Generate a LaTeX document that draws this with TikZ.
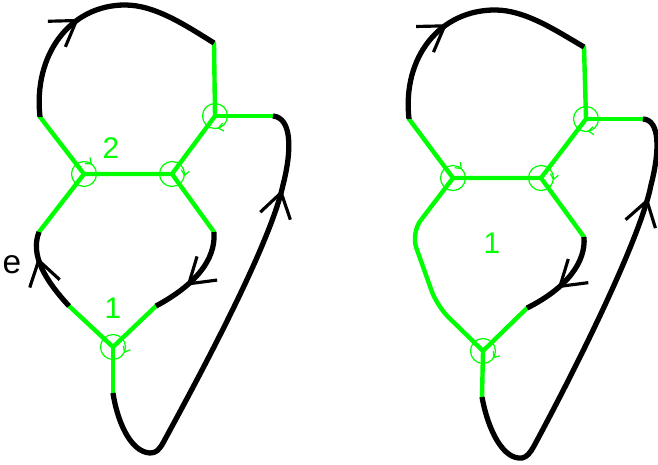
\documentclass[tikz,border=0pt]{standalone}
\usepackage{fontspec}
\setmainfont{Liberation Sans}
\usepackage{tikz}
\usetikzlibrary{arrows.meta,decorations.markings}

\begin{document}
\begin{tikzpicture}[
    x=0.02cm,
    y=-0.02cm,
    font=\fontsize{17}{17}\selectfont,
    strand/.style={
        line width=3pt
    },
    edge/.style={
        green,
        line width=2.5pt,
        line cap=round
    },
    flow/.style={
        postaction={decorate},
        decoration={
            markings,
            mark=at position #1 with {\arrow{Straight Barb[length=0.48cm,width=0.62cm,line width=1.8pt]}}
        }
    },
    spin/.style={
        green,
        line width=0.7pt,
        postaction={decorate},
        decoration={
            markings,
            mark=at position #1 with {\arrow{Straight Barb[length=0.1cm,width=0.16cm,line width=0.7pt]}}
        }
    },
    tag/.style={
        green,
        inner sep=0pt
    }
]

\useasboundingbox (0,0) rectangle (658,465);

% Left diagram: vertices and colour changes
\coordinate (a1) at (84,174);
\coordinate (a2) at (172,174);
\coordinate (a3) at (215,116);
\coordinate (a0) at (113,347);

\coordinate (a1up) at (40,117);
\coordinate (a1dn) at (39,232);
\coordinate (a2dn) at (214,232);
\coordinate (a3up) at (214,43);
\coordinate (a3rt) at (273,116);
\coordinate (a0l) at (69,306);
\coordinate (a0r) at (156,306);
\coordinate (a0dn) at (113,393);

% green edges
\draw[
    edge
] (a1up) -- (a1) -- (a1dn);

\draw[
    edge
] (a1) -- (a2) -- (a3) -- (a3up);

\draw[
    edge
] (a2) -- (a2dn);

\draw[
    edge
] (a3) -- (a3rt);

\draw[
    edge
] (a0l) -- (a0) -- (a0r);

\draw[
    edge
] (a0) -- (a0dn);

% black strands
\draw[
    strand,
    flow=0.43
] (a1up) .. controls (33,55) and (70,5) .. (125,5)
         .. controls (155,5) and (185,25) .. (a3up);

\draw[
    strand,
    flow=0.82
] (a0dn) .. controls (117,420) and (130,452) .. (150,453)
         .. controls (156,453) and (159,450) .. (163,443)
         .. controls (200,375) and (270,245) .. (283,185)
         .. controls (292,150) and (292,118) .. (a3rt);

\draw[
    strand,
    flow=0.69
] (a0l) .. controls (45,280) and (30,255) .. (a1dn);

\draw[
    strand,
    flow=0.63
] (a2dn) .. controls (216,260) and (195,285) .. (a0r);

% vertex circles
\draw[spin=0.86] (a1) circle (12.5);
\draw[spin=0.03] (a2) circle (12.5);
\draw[spin=0.22] (a3) circle (12.5);
\draw[spin=0.08] (a0) circle (12.5);

\node[
    tag
] (a2lbl) at (111,148) {
    2
};

\node[
    tag
] (a1lbl) at (113,308) {
    1
};

\node[
    inner sep=0pt,
    font=\fontsize{19}{19}\selectfont
] (elbl) at (12,265) {
    e
};


% Right diagram: vertices and colour changes
\coordinate (b1) at (453,178);
\coordinate (b2) at (541,178);
\coordinate (b3) at (586,119);
\coordinate (b0) at (483,351);

\coordinate (b1up) at (409,119);
\coordinate (b1bend) at (411,233);
\coordinate (b0bend) at (437,306);
\coordinate (b2dn) at (584,237);
\coordinate (b3up) at (584,47);
\coordinate (b3rt) at (643,119);
\coordinate (b0r) at (527,308);
\coordinate (b0dn) at (482,397);

% green edges
\draw[
    edge
] (b1up) -- (b1) -- (b2) -- (b3) -- (b3up);

\draw[
    edge,
    rounded corners=9pt
] (b1) -- (b1bend) -- (b0bend) -- (b0);

\draw[
    edge
] (b2) -- (b2dn);

\draw[
    edge
] (b3) -- (b3rt);

\draw[
    edge
] (b0r) -- (b0) -- (b0dn);

% black strands
\draw[
    strand,
    flow=0.42
] (b1up) .. controls (402,57) and (440,10) .. (495,10)
         .. controls (525,10) and (555,30) .. (b3up);

\draw[
    strand,
    flow=0.81
] (b0dn) .. controls (488,430) and (503,460) .. (522,458)
         .. controls (527,457) and (530,453) .. (534,446)
         .. controls (575,370) and (640,240) .. (651,185)
         .. controls (660,150) and (660,120) .. (b3rt);

\draw[
    strand,
    flow=0.62
] (b2dn) .. controls (586,262) and (567,288) .. (b0r);

% vertex circles
\draw[spin=0.875] (b1) circle (12.5);
\draw[spin=0.03] (b2) circle (12.5);
\draw[spin=0.23] (b3) circle (12.5);
\draw[spin=0.1] (b0) circle (12.5);

\node[
    tag
] (b1lbl) at (492,243) {
    1
};

\end{tikzpicture}
\end{document}
